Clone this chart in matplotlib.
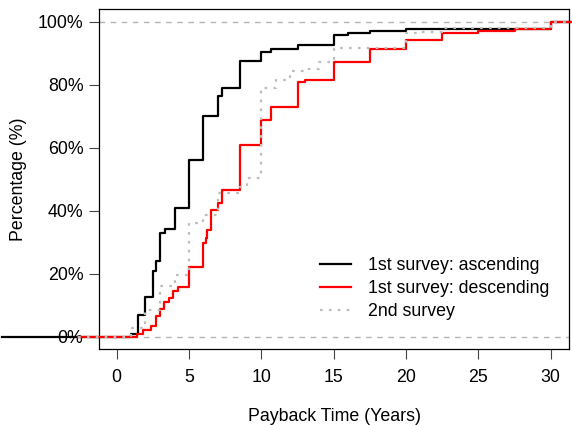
import matplotlib
matplotlib.use("Agg")
import matplotlib.pyplot as plt
import numpy as np

plt.rcParams['font.family'] = ['Liberation Sans', 'DejaVu Sans']

# ---- data (payback time in years, cumulative percentage) ----
asc_x = [1.0, 1.45, 1.95, 2.5, 2.75, 3.0, 3.35, 4.0, 5.0, 6.0, 7.0, 7.3, 8.5,
         10.0, 10.7, 12.5, 15.0, 16.0, 17.5, 20.0, 30.0]
asc_y = [0.9, 6.8, 12.7, 21.0, 24.1, 32.9, 34.3, 41.0, 56.2, 70.1, 76.6, 79.0,
         87.6, 90.5, 91.3, 92.8, 96.0, 96.5, 97.2, 97.9, 100.0]

desc_x = [1.4, 1.85, 2.4, 2.7, 3.0, 3.3, 3.6, 3.9, 4.25, 5.0, 6.0, 6.15, 6.25,
          6.55, 7.0, 7.3, 8.5, 10.0, 10.7, 12.5, 13.0, 15.0, 17.5, 20.0, 22.5,
          25.0, 27.5, 30.0]
desc_y = [0.85, 2.2, 3.5, 6.7, 8.8, 10.9, 12.3, 14.6, 15.8, 22.3, 29.7, 31.3,
          34.0, 40.3, 42.4, 46.7, 61.0, 68.8, 72.9, 80.8, 81.6, 87.3, 91.5,
          94.3, 96.4, 97.1, 97.8, 100.0]

second_x = [1.0, 1.95, 3.0, 4.0, 5.0, 6.0, 7.0, 8.5, 9.0, 10.0, 11.0, 12.0,
            13.0, 14.0, 15.0, 20.0, 21.0, 22.5, 30.0]
second_y = [2.8, 8.6, 16.0, 19.5, 36.1, 38.7, 45.7, 47.7, 50.4, 79.0, 81.5,
            84.3, 85.0, 87.2, 91.6, 96.4, 96.9, 98.0, 100.0]

labels = ["1st survey: ascending", "1st survey: descending", "2nd survey"]
x_ticks = [0, 5, 10, 15, 20, 25, 30]
y_ticks = [0, 20, 40, 60, 80, 100]

# where each drawn step function begins / ends (outside the plot box)
left_ext = [-7.9, -2.7, -2.7]
right_ext = 33.0

fs = 12.8
fig = plt.figure(figsize=(5.72, 4.25), dpi=100)
ax = fig.add_axes([99/572, 1-349/425, 470/572, 340/425])

ax.set_xlim(-1.22, 31.26)
ax.set_ylim(-3.9, 104.1)

ref_col = "#b3b3b3"
ax.axhline(0, color=ref_col, lw=1.0, ls=(0, (4, 4)), zorder=1)
ax.axhline(100, color=ref_col, lw=1.0, ls=(0, (4, 4)), zorder=1)

series = [(asc_x, asc_y, "black", "-"),
          (desc_x, desc_y, "#ff0000", "-"),
          (second_x, second_y, "#bdbdbd", (0, (1.2, 2.8)))]
handles = []
for (xs, ys, col, ls), lx, lab in zip(series, left_ext, labels):
    px = [lx] + list(xs) + [right_ext]
    py = [0.0] + list(ys) + [ys[-1]]
    h, = ax.step(px, py, where="post", color=col, lw=1.6, ls=ls,
                 clip_on=False, zorder=3, label=lab)
    handles.append(h)

ax.set_xticks(x_ticks)
ax.set_xticklabels([str(v) for v in x_ticks])
ax.set_yticks(y_ticks)
ax.set_yticklabels([f"{v}%" for v in y_ticks])
ax.tick_params(axis="both", direction="out", length=7.2, width=0.8,
               labelsize=fs, color="#444444")
ax.tick_params(axis="x", pad=7)
ax.tick_params(axis="y", pad=4)
for s in ax.spines.values():
    s.set_linewidth(0.9)

ax.set_xlabel("Payback Time (Years)", fontsize=fs, labelpad=16)
ax.set_ylabel("Percentage (%)", fontsize=fs, labelpad=8)

leg = ax.legend(handles=handles, loc="upper left",
                bbox_to_anchor=(320/572, 1-257/425),
                bbox_transform=fig.transFigure, frameon=False,
                fontsize=fs, handlelength=1.75, handletextpad=0.95,
                labelspacing=0.33, borderpad=0.0, borderaxespad=0.0)

fig.savefig("out.png", dpi=100)
